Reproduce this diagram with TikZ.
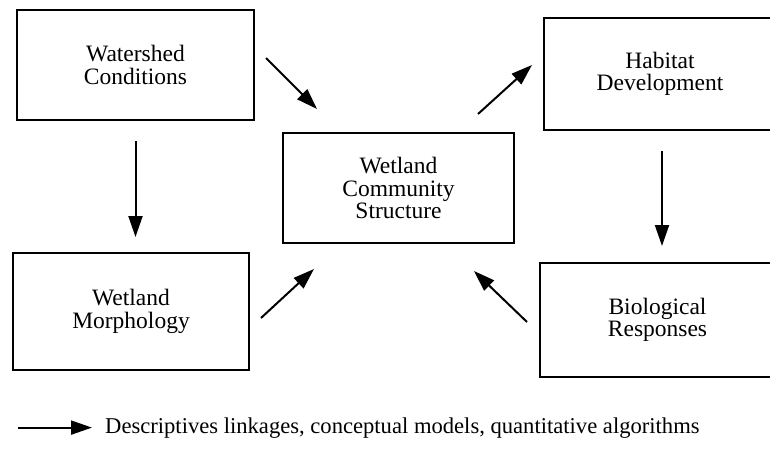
\documentclass[tikz,border=0pt]{standalone}
\usepackage{fontspec}
\setmainfont{Liberation Serif}
\usetikzlibrary{arrows.meta}

\begin{document}
\begin{tikzpicture}[x=1pt, y=-1pt,
box/.style = {draw, line width=2pt, align=center, font=\fontsize{23.5}{22.5}\selectfont},
link/.style = {line width=2pt, -{Triangle[length=21pt, width=14pt]}},
]
\useasboundingbox (0,0) rectangle (770,450);

% Draw boxes
\node[box, minimum width=237pt, minimum height=110pt] (ws) at (135.5,65) {Watershed\\Conditions};
\node[box, minimum width=232pt, minimum height=112pt] (hab) at (660,74) {Habitat\\Development};
\node[box, minimum width=231pt, minimum height=110pt] (ctr) at (398.5,188) {Wetland\\Community\\Structure};
\node[box, minimum width=236pt, minimum height=117pt] (morph) at (131,311.5) {Wetland\\Morphology};
\node[box, minimum width=235pt, minimum height=114pt] (bio) at (657.5,320) {Biological\\Responses};

% Draw links
\draw[link] ([shift={(11,-7)}]ws.east) -- ([shift={(35,-23)}]ctr.north west);
\draw[link] ([shift={(-37,-18)}]ctr.north east) -- ([shift={(-11,-9)}]hab.west);
\draw[link] ([shift={(0,20)}]ws.south) -- ([shift={(0,-15)}]ws.south |- morph.north);
\draw[link] ([shift={(2,20)}]hab.south) -- ([shift={(2,-16)}]hab.south |- bio.north);
\draw[link] ([shift={(11,6.5)}]morph.east) -- ([shift={(32,25)}]ctr.south west);
\draw[link] ([shift={(-12,2)}]bio.west) -- ([shift={(-41,27)}]ctr.south east);

% Legend
\node[anchor=base west, inner sep=0pt, font=\fontsize{22.6}{24}\selectfont] (keytext) at (105,433) {Descriptives linkages, conceptual models, quantitative algorithms};
\coordinate (keyfrom) at (18,0);
\draw[link] (keytext.west -| keyfrom) -- ([xshift=-13pt]keytext.west);
\end{tikzpicture}
\end{document}
